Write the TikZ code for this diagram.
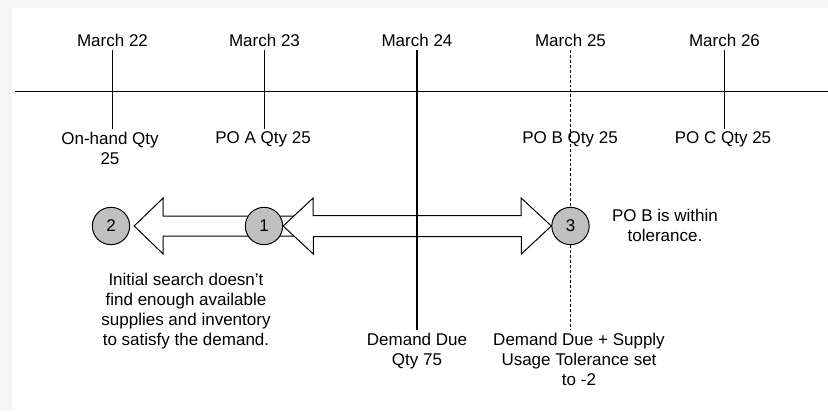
\documentclass[tikz,border=0pt]{standalone}
\usepackage{fontspec}
\setmainfont{Liberation Sans}
\usetikzlibrary{calc, backgrounds}
\definecolor{pagegray}{RGB}{246,246,246}
\definecolor{dotgray}{RGB}{192,192,192}

\begin{document}
\begin{tikzpicture}[x=0.75pt, y=-0.75pt,
        every node/.style={font=\fontsize{12.75}{15}\selectfont, align=center, inner sep=2pt},
        day/.style={anchor=south},
        qty/.style={anchor=north},
        tick/.style={line width=0.9pt},
        dueline/.style={line width=2.2pt},
        tolline/.style={line width=0.9pt, dash pattern=on 2.2pt off 1.5pt},
        blockarr/.style={draw, fill=white, line width=0.75pt, line join=miter},
        numdot/.style={circle, draw, fill=dotgray, line width=0.75pt, minimum size=28pt, inner sep=0pt}
    ]
        \useasboundingbox (0,0) rectangle (828,411);

        % dates above the time line
        \node[day] (m22) at (112.5,50) {March 22};
        \node[day] (m23) at (264.5,50) {March 23};
        \node[day] (m24) at (417,50) {March 24};
        \node[day] (m25) at (570.5,50) {March 25};
        \node[day] (m26) at (724.5,50) {March 26};

        % supplies below the time line
        \node[qty] (oh)  at (110,129) {On-hand Qty\\25};
        \node[qty] (poa) at (263,129) {PO A Qty 25};
        \node[qty] (pob) at (570,129) {PO B Qty 25};
        \node[qty] (poc) at (723,129) {PO C Qty 25};

        % search steps
        \node[numdot] (c2) at (111,226) {2};
        \node[numdot] (c1) at (264,226) {1};
        \node[numdot] (c3) at (570.5,226) {3};

        % notes
        \node[qty] (miss)   at (186,270) {Initial search doesn't\\find enough available\\supplies and inventory\\to satisfy the demand.};
        \node[qty] (within) at (665,206) {PO B is within\\tolerance.};
        \node[qty] (due)    at (417,330) {Demand Due\\Qty 75};
        \node[qty] (tol)    at (579,330) {Demand Due + Supply\\Usage Tolerance set\\to -2};

        \coordinate (tl) at (15,91.5);
        \coordinate (tr) at (828,91.5);

        \begin{scope}[on background layer]
            \fill[pagegray] (0,0) rectangle (828,411);
            \fill[white] (12,8) rectangle (828,411);

            % time line and ticks
            \draw[tick] (tl) -- (tr);
            \draw[tick] (m22.south) -- (m22.south |- oh.north);
            \draw[tick] (m23.south) -- (m23.south |- poa.north);
            \draw[tick] (m26.south) -- (m26.south |- poc.north);
            \draw[tolline] (m25.south) -- (c3.north);
            \draw[tolline] (c3.south) -- (c3.south |- tol.north);
            \draw[dueline, shorten <=2pt] (m24.south) -- (due.north);

            % backward search 1 -> 2
            \draw[blockarr] ($(c2.east)+(4,0)$) -- ++(29,-28) -- ++(0,18) -- ++(140,0) -- ++(0,20)
                -- ++(-140,0) -- ++(0,18) -- cycle;

            % search window 1 -> 3 (double block arrow)
            \draw[blockarr] (c1.east) -- ++(30,-28) -- ++(0,17.5) -- ++(208,0) -- ++(0,-17.5)
                -- (c3.west) -- ++(-30,28) -- ++(0,-17.5) -- ++(-208,0) -- ++(0,17.5) -- cycle;
            \draw[tick] (m24.south) -- (due.north);
        \end{scope}
    \end{tikzpicture}
\end{document}
